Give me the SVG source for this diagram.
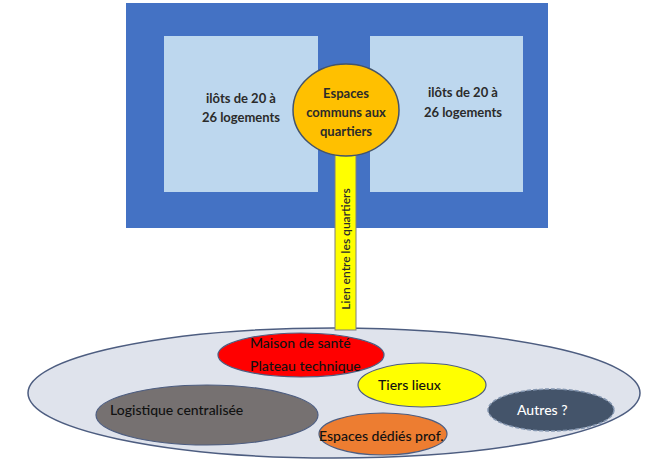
<svg xmlns="http://www.w3.org/2000/svg" width="651" height="462" viewBox="0 0 651 462">
<style>
.t{font-family:Lato,"Open Sans","Liberation Sans",sans-serif;font-weight:bold;font-size:13px;fill:#2b2b2b;text-anchor:middle}
.b{font-family:Lato,"Liberation Sans",Arial,sans-serif;font-size:14px;fill:#111111;font-weight:500}
</style>
<rect width="651" height="462" fill="#ffffff"/>
<g id="quartier">
<rect x="126" y="3" width="422" height="225" fill="#4472c4"/>
</g>
<g id="ilot-gauche">
<rect x="164" y="36" width="154" height="156" fill="#bdd7ee"/>
<text class="t" x="241" y="103">ilôts de 20 à</text>
<text class="t" x="241" y="122">26 logements</text>
</g>
<g id="ilot-droit">
<rect x="370" y="36" width="153" height="156" fill="#bdd7ee"/>
<text class="t" x="463" y="97">ilôts de 20 à</text>
<text class="t" x="463" y="117">26 logements</text>
</g>
<g id="pole">
<ellipse cx="334" cy="393" rx="306" ry="65" fill="#dfe3ec" stroke="#4d5d80" stroke-width="1.5"/>
</g>
<g id="connectors">
<rect x="335" y="150" width="21" height="180" fill="#ffff00" stroke="#7f7f7f" stroke-width="1"/>
<text class="t" transform="translate(350,249) rotate(-90)" style="font-size:12px;font-weight:600">Lien entre les quartiers</text>
</g>
<g id="espaces-communs">
<ellipse cx="346" cy="110" rx="53" ry="46" fill="#ffc000" stroke="#44546a" stroke-width="1.5"/>
<text class="t" x="346" y="98">Espaces</text>
<text class="t" x="346" y="117">communs aux</text>
<text class="t" x="346" y="136">quartiers</text>
</g>
<g id="maison-sante">
<ellipse cx="301" cy="355" rx="83" ry="22" fill="#ff0000" stroke="#4d5d80" stroke-width="1.2"/>
<text class="b" x="250" y="348">Maison de santé</text>
<text class="b" x="250" y="371">Plateau technique</text>
</g>
<g id="tiers-lieux">
<ellipse cx="422" cy="385" rx="64" ry="22" fill="#ffff00" stroke="#4d5d80" stroke-width="1.2"/>
<text class="b" x="378" y="390">Tiers lieux</text>
</g>
<g id="logistique">
<ellipse cx="207" cy="415" rx="111" ry="30" fill="#767171" stroke="#4d5d80" stroke-width="1.2"/>
<text class="b" x="110" y="415">Logistique centralisée</text>
</g>
<g id="espaces-dedies">
<ellipse cx="383" cy="434" rx="64" ry="21" fill="#ed7d31" stroke="#4d5d80" stroke-width="1.2"/>
<text class="b" x="319" y="441">Espaces dédiés prof.</text>
</g>
<g id="autres">
<ellipse cx="551" cy="410" rx="63" ry="21" fill="#44546a" stroke="#8496b0" stroke-width="1.5" stroke-dasharray="4 2"/>
<text class="b" x="517" y="415" style="fill:#ffffff">Autres ?</text>
</g>
</svg>
